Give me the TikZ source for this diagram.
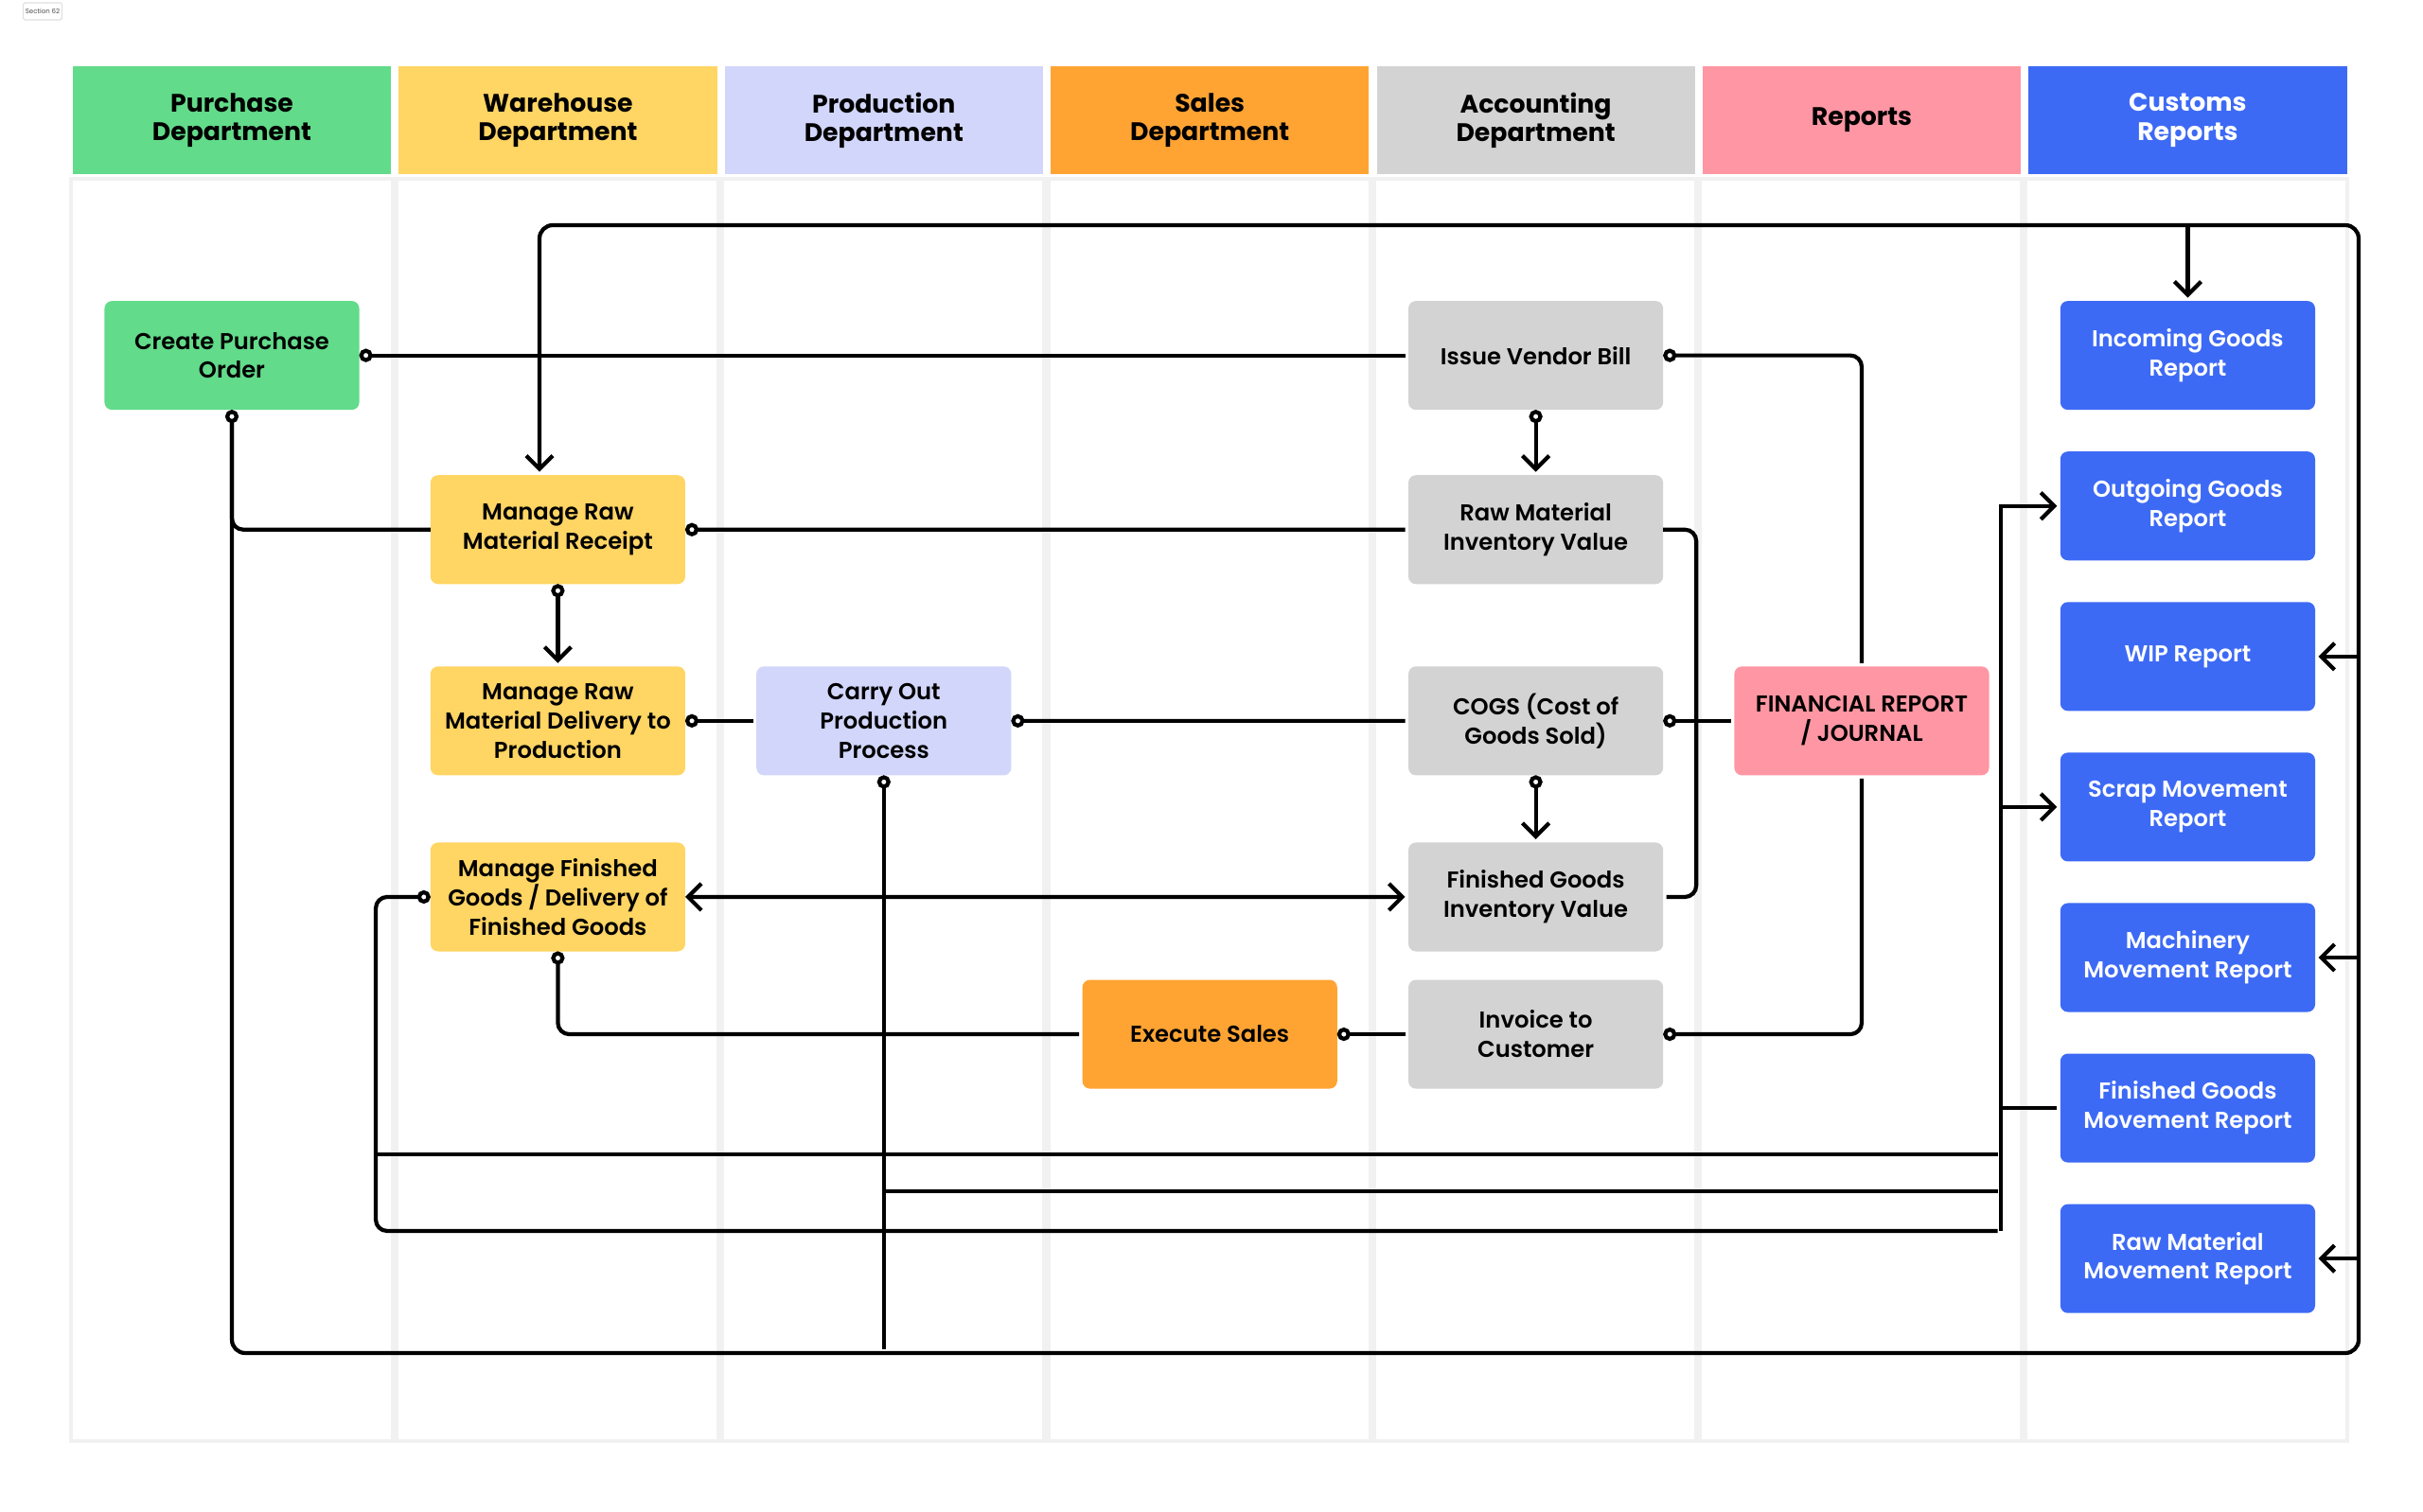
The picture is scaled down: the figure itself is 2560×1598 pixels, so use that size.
\documentclass[tikz,border=0pt]{standalone}
\usepackage{fontspec}
\setmainfont{Poppins}
\newfontfamily\semifont{Poppins SemiBold}
\usetikzlibrary{arrows.meta}
\usetikzlibrary{positioning}

\definecolor{purch}{HTML}{62DB8A}
\definecolor{ware}{HTML}{FFD563}
\definecolor{prod}{HTML}{D1D6FA}
\definecolor{sales}{HTML}{FFA433}
\definecolor{acct}{HTML}{D3D3D3}
\definecolor{rep}{HTML}{FF96A3}
\definecolor{cust}{HTML}{3D6AF5}
\definecolor{lane}{HTML}{F1F1F1}

\begin{document}
\begin{tikzpicture}[x=0.01cm,y=-0.01cm,line width=1.2pt,shorten >=1pt,
  >={Straight Barb[length=4pt,width=8pt]},
  ring/.tip={Circle[open,fill=white,length=4pt]},
  head node/.style={rectangle,minimum width=3.36cm,minimum height=1.14cm,
  inner sep=0pt,outer sep=0pt,align=center,
  font=\bfseries\fontsize{7.6}{8.6}\selectfont},
  task node/.style={rectangle,rounded corners=0.08cm,minimum width=2.69cm,
  minimum height=1.15cm,inner sep=0pt,outer sep=0pt,align=center,
  font=\semifont\fontsize{6.9}{8.8}\selectfont},
  custom node/.style={task node,fill=cust,text=white}]

  \useasboundingbox (0,0) rectangle (2560,1598);
  \fill[white] (0,0) rectangle (2560,1598);

  \node[draw=black!12,line width=0.3pt,rounded corners=0.5pt,minimum width=0.41cm,
    minimum height=0.18cm,inner sep=0pt,text=black!70,
    font=\fontsize{2}{2.4}\selectfont] (SEC) at (45,12) {Section 62};

  % swimlanes
  \fill[lane] (73,187) rectangle (2482,1525);
  \foreach \i in {0,...,6}
    \fill[white] ({77+344.2*\i},191) rectangle ++(336,1330);

  % lane headers
  \node[head node,fill=purch] (HP) at (245,127) {Purchase\\Department};
  \node[head node,fill=ware] (HW) [right=0.082cm of HP] {Warehouse\\Department};
  \node[head node,fill=prod] (HPR) [right=0.082cm of HW] {Production\\Department};
  \node[head node,fill=sales] (HS) [right=0.082cm of HPR] {Sales\\Department};
  \node[head node,fill=acct] (HA) [right=0.082cm of HS] {Accounting\\Department};
  \node[head node,fill=rep] (HR) [right=0.082cm of HA] {Reports};
  \node[head node,fill=cust,text=white] (HC) [right=0.082cm of HR] {Customs\\Reports};

  % tasks
  \node[task node,fill=purch] (CPO) [below=1.34cm of HP] {Create Purchase\\Order};
  \node[task node,fill=ware] (MRR) [below=3.18cm of HW] {Manage Raw\\Material Receipt};
  \node[task node,fill=ware] (MRD) [below=0.87cm of MRR] {Manage Raw\\Material Delivery to\\Production};
  \node[task node,fill=ware] (MFG) [below=0.71cm of MRD] {Manage Finished\\Goods / Delivery of\\Finished Goods};
  \node[task node,fill=prod] (COPP) [right=0.752cm of MRD] {Carry Out\\Production\\Process};
  \node[task node,fill=acct] (IVB) [below=1.34cm of HA] {Issue Vendor Bill};
  \node[task node,fill=acct] (RMIV) [below=0.69cm of IVB] {Raw Material\\Inventory Value};
  \node[task node,fill=acct] (COGS) [below=0.87cm of RMIV] {COGS (Cost of\\Goods Sold)};
  \node[task node,fill=acct] (FGIV) [below=0.71cm of COGS] {Finished Goods\\Inventory Value};
  \node[task node,fill=acct] (INV) [below=0.30cm of FGIV] {Invoice to\\Customer};
  \node[task node,fill=sales] (ES) [left=0.752cm of INV] {Execute Sales};
  \node[task node,fill=rep] (FR) [right=0.752cm of COGS] {FINANCIAL REPORT\\/ JOURNAL};

  % customs reports
  \node[custom node] (IGR) [below=1.34cm of HC] {Incoming Goods\\Report};
  \node[custom node] (OGR) [below=0.44cm of IGR] {Outgoing Goods\\Report};
  \node[custom node] (WIP) [below=0.44cm of OGR] {WIP Report};
  \node[custom node] (SMR) [below=0.44cm of WIP] {Scrap Movement\\Report};
  \node[custom node] (MMR) [below=0.44cm of SMR] {Machinery\\Movement Report};
  \node[custom node] (FGMR) [below=0.44cm of MMR] {Finished Goods\\Movement Report};
  \node[custom node] (RMMR) [below=0.44cm of FGMR] {Raw Material\\Movement Report};

  \coordinate (LB) at (245,1430);
  \coordinate (RB) at (2492,1430);
  \coordinate (RT) at (2492,238);
  \coordinate (LT) at (570,238);
  \coordinate (MT) at (OGR.west -| 2114,0);
  \coordinate (MB) at (2114,1301);

  \path
    %Purchase order goes on to the vendor bill
    (CPO) edge[ring-] (IVB)
    (IVB) edge[ring->] (RMIV)
    %Receipt and delivery of raw material
    (MRR) edge[ring-] (RMIV)
    (MRR) edge[ring->] (MRD)
    (MRD) edge[ring-] (COPP)
    (COPP) edge[ring-] (COGS)
    %Cost of goods sold
    (COGS) edge[ring-] (FR)
    (COGS) edge[ring->] (FGIV)
    (MFG) edge[<->] (FGIV)
    (ES) edge[ring-] (INV);

  \draw[rounded corners=0.12cm] (MRR.west) -| (CPO.south);
  \draw[ring-,rounded corners=0.12cm] (IVB.east) -| (FR.north);
  \draw[ring-,rounded corners=0.12cm] (INV.east) -| (FR.south);
  \draw[rounded corners=0.12cm] (RMIV.east) -- ++(35,0) |- (FGIV.east);
  \draw[ring-,rounded corners=0.12cm] (MFG.south) |- (ES.west);

  %Big loop round the chart feeds the customs reports
  \draw[ring->,rounded corners=0.14cm] (CPO.south) -- (LB) -- (RB) -- (RT) -- (LT) -- (LT |- MRR.north);
  \draw[->] (IGR.north |- RT) -- (IGR.north);
  \draw[->] (WIP.east -| RT) -- (WIP.east);
  \draw[->] (MMR.east -| RT) -- (MMR.east);
  \draw[->] (RMMR.east -| RT) -- (RMMR.east);

  %Goods movements
  \draw[->] (MB) -- (MT) -- (OGR.west);
  \draw[->] (SMR.west -| MT) -- (SMR.west);
  \draw (FGMR.west -| MT) -- (FGMR.west);
  \draw[ring-,rounded corners=0.12cm] (MFG.west) -| (397,1301) -- (MB);
  \draw (397,1220) -- (MT |- 0,1220);
  \draw[ring-] (COPP.south) -- (COPP.south |- LB);
  \draw (COPP.south |- 0,1259) -- (MT |- 0,1259);

\end{tikzpicture}
\end{document}
